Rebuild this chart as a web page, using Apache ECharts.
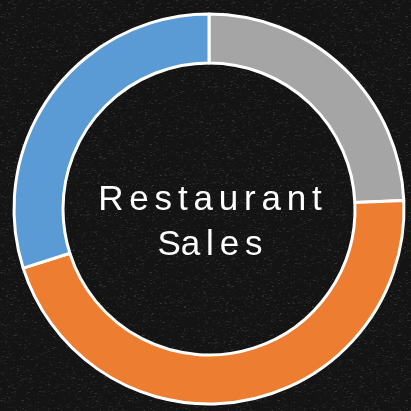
<!DOCTYPE html>
<html>
<head>
<meta charset="utf-8">
<style>
  html, body { margin: 0; padding: 0; background: #161616; }
  #main { width: 411px; height: 411px; }
</style>
<script src="https://cdn.jsdelivr.net/npm/echarts@6/dist/echarts.min.js"></script>
</head>
<body>
<div id="main"></div>
<script>
// chart data
var categories = ["Breakfast", "Dinner", "Lunch"];
var values = [24.3, 45.8, 29.9];
var colors = ["#a5a5a5", "#ed7d31", "#5b9bd5"];
var centerLines = ["Restaurant", "Sales"];

// dark chalkboard-ish background, deterministic speckle
function makeTexture() {
  var c = document.createElement("canvas");
  c.width = 128; c.height = 128;
  var ctx = c.getContext("2d");
  ctx.fillStyle = "#141414";
  ctx.fillRect(0, 0, 128, 128);
  var seed = 7;
  function rnd() { seed = (seed * 16807) % 2147483647; return seed / 2147483647; }
  for (var i = 0; i < 1600; i++) {
    var g = Math.floor(25 + rnd() * 45);
    ctx.fillStyle = "rgba(" + g + "," + g + "," + g + "," + (0.25 + rnd() * 0.4) + ")";
    ctx.fillRect(Math.floor(rnd() * 128), Math.floor(rnd() * 128), 1 + Math.floor(rnd() * 2), 1);
  }
  return c;
}

// letter-spaced text (six-per-em space); "Sa" is set tight like the original
var sp = "\u2006";
var line1 = centerLines[0].split("").join(sp);
var line2 = centerLines[1].slice(0, 2) + sp + centerLines[1].slice(2).split("").join(sp);

var myChart = echarts.init(document.getElementById("main"));
myChart.setOption({
  backgroundColor: { image: makeTexture(), repeat: "repeat" },
  color: colors,
  graphic: [{
    type: "text",
    x: 210,
    y: 223,
    style: {
      text: line1 + "\n" + line2,
      fill: "#ffffff",
      font: "35px 'Liberation Sans', Arial, sans-serif",
      lineHeight: 45,
      align: "center",
      verticalAlign: "middle"
    }
  }],
  series: [{
    type: "pie",
    radius: [146, 195],
    center: [209, 209],
    startAngle: 90,
    clockwise: true,
    silent: true,
    label: { show: false },
    labelLine: { show: false },
    itemStyle: { borderColor: "#ffffff", borderWidth: 3 },
    data: categories.map(function (n, i) { return { name: n, value: values[i] }; })
  }]
});
</script>
</body>
</html>
